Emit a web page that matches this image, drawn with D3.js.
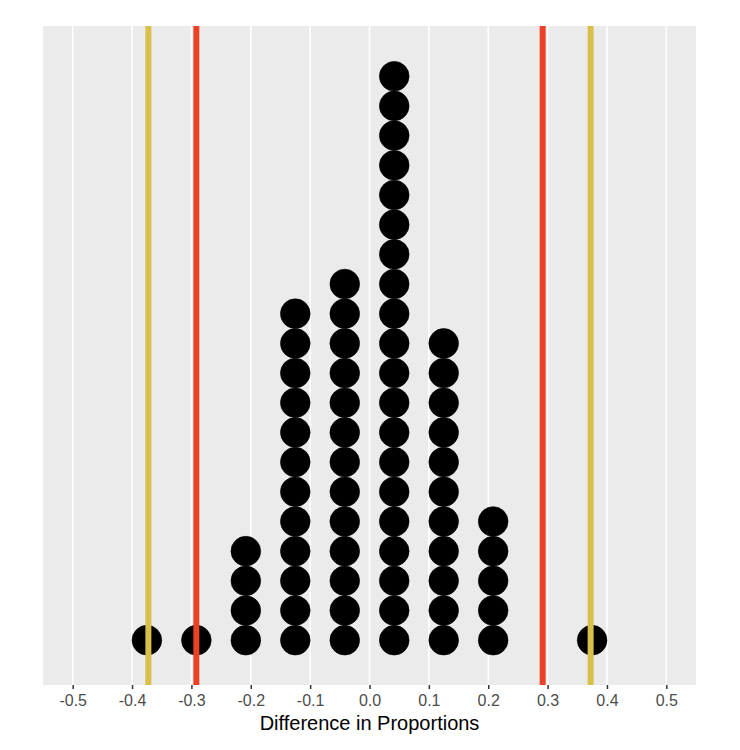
<!DOCTYPE html>
<html>
<head>
<meta charset="utf-8">
<script src="https://cdn.jsdelivr.net/npm/d3@7"></script>
<style>
  body { margin: 0; background: #ffffff; }
  svg { display: block; font-family: "Liberation Sans", Arial, sans-serif; }
  .x-axis text { font-size: 16px; fill: #4d4d4d; }
</style>
</head>
<body>
<div id="chart"></div>
<script>

// bin centres of the simulated differences (k / 24) and how many dots each holds
const binCenters = [-9/24, -7/24, -5/24, -3/24, -1/24, 1/24, 3/24, 5/24, 9/24];
const binCounts = [1, 1, 4, 12, 13, 20, 11, 5, 1];

// reference lines
const redLines = [-0.2917, 0.2917];
const yellowLines = [-0.3725, 0.3725];

const xTicks = [-0.5, -0.4, -0.3, -0.2, -0.1, 0.0, 0.1, 0.2, 0.3, 0.4, 0.5];
const xTitle = "Difference in Proportions";

const binWidth = 2/24;
const dotSize = 0.6;

let width = 740,
    height = 750;

let margin = {top: 26, right: 44, bottom: 65, left: 43};
let innerW = width - margin.left - margin.right,
    innerH = height - margin.top - margin.bottom;

let svg = d3.select("#chart").append("svg")
    .attr("width", width)
    .attr("height", height);

let g = svg.append("g")
    .attr("transform", "translate(" + margin.left + "," + margin.top + ")");

// ggplot style expanded scales
let x = d3.scaleLinear()
    .domain([-0.55, 0.55])
    .range([0, innerW]);

let y = d3.scaleLinear()
    .domain([-0.05, 1.05])
    .range([innerH, 0]);

// panel background
g.append("rect")
    .attr("width", innerW)
    .attr("height", innerH)
    .attr("fill", "#ebebeb");

// vertical grid lines
g.selectAll(".grid")
    .data(xTicks)
    .enter().append("line")
    .attr("class", "grid")
    .attr("x1", d => x(d))
    .attr("x2", d => x(d))
    .attr("y1", 0)
    .attr("y2", innerH)
    .attr("stroke", "#ffffff")
    .attr("stroke-width", 1.6);

// build one record per dot
let dots = [];
binCenters.forEach(function (c, i) {
    for (let j = 0; j < binCounts[i]; j++) {
        dots.push({x: c, stack: j});
    }
});

let dotDiam = (x(binWidth) - x(0)) * dotSize;

g.selectAll(".dot")
    .data(dots)
    .enter().append("circle")
    .attr("class", "dot")
    .attr("cx", d => x(d.x))
    .attr("cy", d => y(0) - dotDiam / 2 - d.stack * dotDiam)
    .attr("r", dotDiam / 2)
    .attr("fill", "black")
    .attr("stroke", "black")
    .attr("stroke-width", 0.6);

// red and yellow vertical lines, drawn over the dots
g.selectAll(".red-line")
    .data(redLines)
    .enter().append("line")
    .attr("x1", d => x(d))
    .attr("x2", d => x(d))
    .attr("y1", 0)
    .attr("y2", innerH)
    .attr("stroke", "#eb4227")
    .attr("stroke-width", 6);

g.selectAll(".yellow-line")
    .data(yellowLines)
    .enter().append("line")
    .attr("x1", d => x(d))
    .attr("x2", d => x(d))
    .attr("y1", 0)
    .attr("y2", innerH)
    .attr("stroke", "#d8c04a")
    .attr("stroke-width", 6);

// x axis
let xAxis = d3.axisBottom(x)
    .tickValues(xTicks)
    .tickSize(4)
    .tickPadding(6)
    .tickFormat(d => d3.format(".1f")(d).replace("−", "-"));

let axisG = g.append("g")
    .attr("class", "x-axis")
    .attr("transform", "translate(0," + innerH + ")")
    .call(xAxis);

axisG.attr("font-size", null).attr("font-family", null);
axisG.select(".domain").remove();
axisG.selectAll(".tick line")
    .attr("stroke", "#333333")
    .attr("stroke-width", 1.5);
axisG.selectAll(".tick text")
    .attr("fill", "#4d4d4d");

// axis title
g.append("text")
    .attr("x", innerW / 2)
    .attr("y", innerH + 45)
    .attr("text-anchor", "middle")
    .style("font-size", "20px")
    .attr("fill", "#000000")
    .text(xTitle);

</script>
</body>
</html>
